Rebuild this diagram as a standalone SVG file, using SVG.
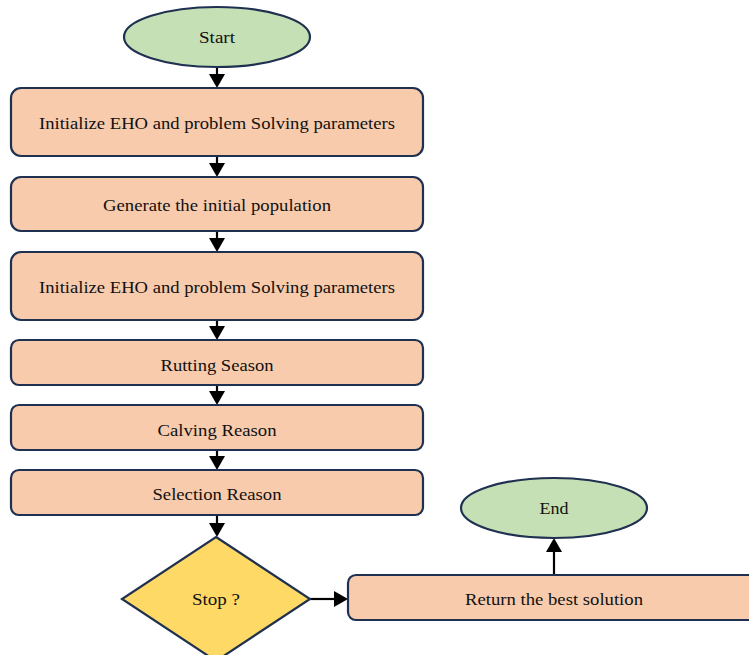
<svg xmlns="http://www.w3.org/2000/svg" width="749" height="655" viewBox="0 0 749 655">
<style>
.box{fill:#F8CBAD;stroke:#1F3050;stroke-width:2.2}
.term{fill:#C5E0B4;stroke:#1F3050;stroke-width:2.2}
.dec{fill:#FFD966;stroke:#1F3050;stroke-width:2.2}
text{font-family:"Liberation Serif","Times New Roman",serif;font-size:17.5px;fill:#111;text-anchor:middle}
.ln{stroke:#000;stroke-width:2.2;fill:none}
</style>
<rect width="749" height="655" fill="#fff"/>
<g id="connectors">
<line class="ln" x1="217" y1="67" x2="217" y2="75"/><polygon points="209,74 225,74 217,88" fill="#000"/>
<line class="ln" x1="217" y1="156" x2="217" y2="164"/><polygon points="209,163 225,163 217,177" fill="#000"/>
<line class="ln" x1="217" y1="231" x2="217" y2="239"/><polygon points="209,238 225,238 217,252" fill="#000"/>
<line class="ln" x1="217" y1="320" x2="217" y2="327"/><polygon points="209,326 225,326 217,340" fill="#000"/>
<line class="ln" x1="217" y1="385" x2="217" y2="392"/><polygon points="209,391 225,391 217,405" fill="#000"/>
<line class="ln" x1="217" y1="450" x2="217" y2="457"/><polygon points="209,456 225,456 217,470" fill="#000"/>
<line class="ln" x1="217" y1="515" x2="217" y2="524"/><polygon points="209,523 225,523 217,537" fill="#000"/>
<line class="ln" x1="310" y1="599" x2="335" y2="599"/><polygon points="334,591 334,607 348,599" fill="#000"/>
<line class="ln" x1="554" y1="575" x2="554" y2="551"/><polygon points="546,552 562,552 554,538" fill="#000"/>
</g>
<g id="start"><ellipse class="term" cx="217" cy="37" rx="93" ry="30"/><text x="217" y="43" textLength="36" lengthAdjust="spacingAndGlyphs">Start</text></g>
<g id="init1"><rect class="box" x="11" y="88" width="412" height="68" rx="10"/><text x="217" y="129" textLength="356" lengthAdjust="spacingAndGlyphs">Initialize EHO and problem Solving parameters</text></g>
<g id="generate"><rect class="box" x="11" y="177" width="412" height="54" rx="10"/><text x="217" y="211" textLength="228" lengthAdjust="spacingAndGlyphs">Generate the initial population</text></g>
<g id="init2"><rect class="box" x="11" y="252" width="412" height="68" rx="10"/><text x="217" y="293" textLength="356" lengthAdjust="spacingAndGlyphs">Initialize EHO and problem Solving parameters</text></g>
<g id="rutting"><rect class="box" x="11" y="340" width="412" height="45" rx="8"/><text x="217" y="371" textLength="113" lengthAdjust="spacingAndGlyphs">Rutting Season</text></g>
<g id="calving"><rect class="box" x="11" y="405" width="412" height="45" rx="8"/><text x="217" y="436" textLength="119" lengthAdjust="spacingAndGlyphs">Calving Reason</text></g>
<g id="selection"><rect class="box" x="11" y="470" width="412" height="45" rx="8"/><text x="217" y="500" textLength="129" lengthAdjust="spacingAndGlyphs">Selection Reason</text></g>
<g id="stop"><polygon class="dec" points="216,537 310,599 216,661 122,599"/><text x="216" y="605" textLength="48" lengthAdjust="spacingAndGlyphs">Stop ?</text></g>
<g id="return"><rect class="box" x="348" y="575" width="412" height="45" rx="8"/><text x="554" y="605" textLength="178" lengthAdjust="spacingAndGlyphs">Return the best solution</text></g>
<g id="end"><ellipse class="term" cx="554" cy="508" rx="93" ry="30"/><text x="554" y="514" textLength="29" lengthAdjust="spacingAndGlyphs">End</text></g>
</svg>
